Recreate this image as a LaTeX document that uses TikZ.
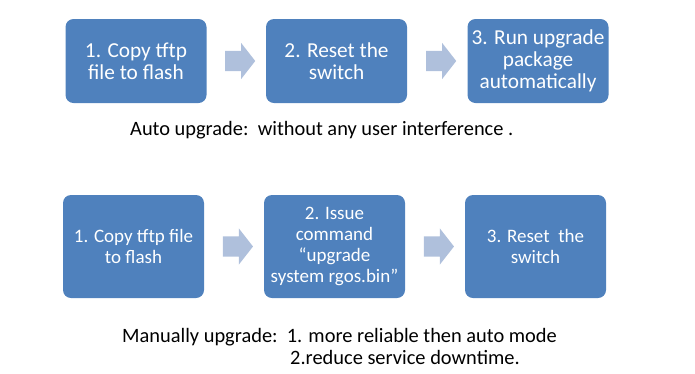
\documentclass[tikz,border=0pt]{standalone}
\usepackage{fontspec}
\setmainfont{Carlito}
\usetikzlibrary{shapes.arrows, calc}

\definecolor{boxblue}{HTML}{4F81BD}
\definecolor{arrowblue}{HTML}{AFC0DC}

\begin{document}
\begin{tikzpicture}[
  x=1pt, y=-1pt,
  stepbox/.style={rectangle, rounded corners=8pt, fill=boxblue, draw=none, minimum width=141pt, minimum height=84pt, inner xsep=1pt, align=center, text=white, font=\fontsize{21.3}{22}\selectfont},
  tallbox/.style={stepbox, minimum height=103pt, font=\fontsize{19}{20.7}\selectfont},
  blockarrow/.style={single arrow, fill=arrowblue, draw=none, inner xsep=0pt, inner ysep=10pt, single arrow head extend=8pt, single arrow tip angle=104, minimum height=30pt},
  caption/.style={anchor=base west, inner sep=0pt, font=\fontsize{20.4}{22}\selectfont}
]
  \useasboundingbox (0,0) rectangle (695,373);

  % auto upgrade
  \node[stepbox] (A1) at (136,61) {1. Copy tftp\\file to flash};
  \node[stepbox] (A2) at (336.5,61) {2. Reset the\\switch};
  \node[stepbox] (A3) at (538,61) {3. Run upgrade\\package\\automatically};
  \node[blockarrow] (a12) at ($(A1.east)!0.5!(A2.west)$) {};
  \node[blockarrow] (a23) at ($(A2.east)!0.5!(A3.west)$) {};
  \node[caption] (autotext) at (130,135) {Auto upgrade:\ \ without any user interference .};

  % manual upgrade
  \node[tallbox] (M1) at (133.5,246.5) {1. Copy tftp file\\to flash};
  \node[tallbox] (M2) at (334.5,246.5) {2. Issue\\command\\“upgrade\\system rgos.bin”};
  \node[tallbox] (M3) at (535.5,246.5) {3. Reset\ \ the\\switch};
  \node[blockarrow] (m12) at ($(M1.east)!0.5!(M2.west)$) {};
  \node[blockarrow] (m23) at ($(M2.east)!0.5!(M3.west)$) {};
  \node[caption] (manualtext) at (122,342) {Manually upgrade:\ \ 1. more reliable then auto mode};
  \node[caption] (manualnote) at (290,364) {2.reduce service downtime.};
\end{tikzpicture}
\end{document}
